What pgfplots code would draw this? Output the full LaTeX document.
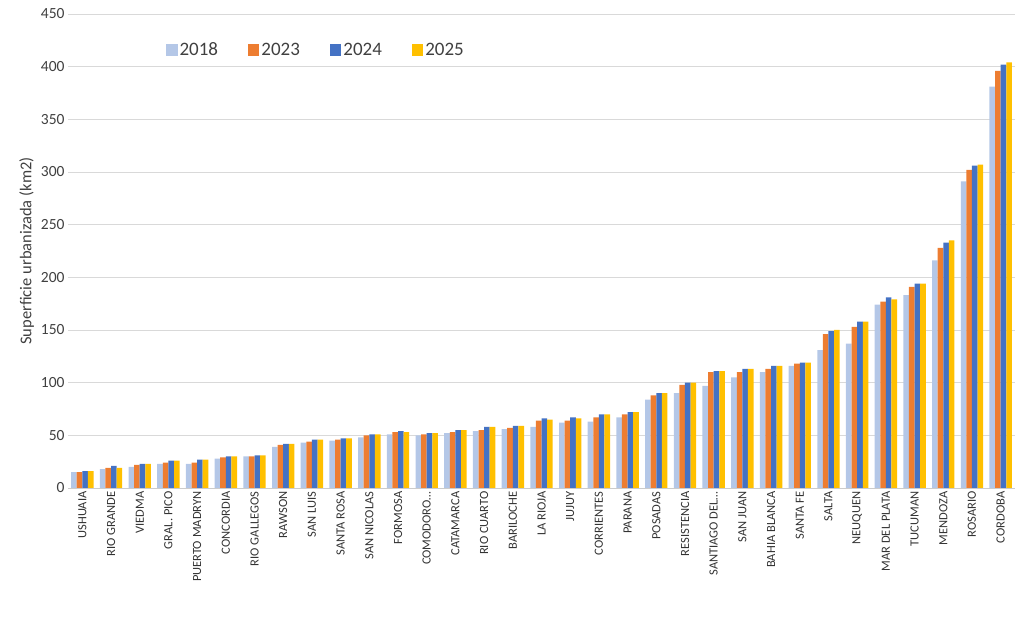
\documentclass[border=0pt]{standalone}
\usepackage{pgfplots}
\pgfplotsset{compat=1.18}
\usepackage{fontspec}
\setmainfont{Carlito}
\definecolor{c18}{HTML}{B4C7E7}
\definecolor{c23}{HTML}{ED7D31}
\definecolor{c24}{HTML}{4472C4}
\definecolor{c25}{HTML}{FFC000}
\begin{document}
\begin{tikzpicture}
\useasboundingbox (0,0) rectangle (1025pt,639pt);
\begin{axis}[at={(68pt,151pt)}, anchor=south west,
  scale only axis, width=947pt, height=474pt,
  ybar=0pt, bar width=5.6pt,
  xmin=-0.5, xmax=32.5, ymin=0, ymax=450, ytick={0,50,...,450},
  xtick={0,...,32},
  xticklabels={USHUAIA,RIO GRANDE,VIEDMA,GRAL. PICO,PUERTO MADRYN,CONCORDIA,RIO GALLEGOS,RAWSON,SAN LUIS,SANTA ROSA,SAN NICOLAS,FORMOSA,COMODORO\ldots,CATAMARCA,RIO CUARTO,BARILOCHE,LA RIOJA,JUJUY,CORRIENTES,PARANA,POSADAS,RESISTENCIA,SANTIAGO DEL\ldots,SAN JUAN,BAHIA BLANCA,SANTA FE,SALTA,NEUQUEN,MAR DEL PLATA,TUCUMAN,MENDOZA,ROSARIO,CORDOBA},
  x tick label style={rotate=90, anchor=east, font=\fontsize{12.5}{13}\selectfont, text=black!80},
  y tick label style={font=\fontsize{15.5}{16}\selectfont, text=black!75},
  /pgf/number format/assume math mode=true,
  ymajorgrids, grid style={gray!30, line width=0.8pt},
  axis x line*=bottom, axis y line*=left,
  y axis line style={draw=none},
  x axis line style={gray!40, line width=0.8pt, -},
  major tick length=0pt,
  ylabel={Superficie urbanizada (km2)}, ylabel style={font=\fontsize{16.5}{17}\selectfont, text=black!75},
  legend style={at={(95pt,438pt)}, anchor=west, draw=none, fill=none, legend columns=4, font=\fontsize{19}{20}\selectfont, text=black!75, /tikz/every even column/.append style={column sep=28pt}},
  legend image code/.code={\fill[#1] (0cm,-0.2cm) rectangle (0.4cm,0.2cm);},
]
\addplot[draw=none, fill=c18] coordinates {(0,15)(1,18)(2,20)(3,23)(4,23)(5,28)(6,30)(7,39)(8,43)(9,45)(10,48)(11,51)(12,50)(13,52)(14,54)(15,56)(16,58)(17,62)(18,63)(19,67)(20,84)(21,90)(22,97)(23,105)(24,110)(25,116)(26,131)(27,137)(28,174)(29,183)(30,216)(31,291)(32,381)};
\addplot[draw=none, fill=c23] coordinates {(0,15)(1,19)(2,22)(3,24)(4,24)(5,29)(6,30)(7,41)(8,44)(9,46)(10,50)(11,53)(12,51)(13,53)(14,55)(15,57)(16,64)(17,64)(18,67)(19,70)(20,88)(21,98)(22,110)(23,110)(24,113)(25,118)(26,146)(27,153)(28,177)(29,191)(30,228)(31,302)(32,396)};
\addplot[draw=none, fill=c24] coordinates {(0,16)(1,21)(2,23)(3,26)(4,27)(5,30)(6,31)(7,42)(8,46)(9,47)(10,51)(11,54)(12,52)(13,55)(14,58)(15,59)(16,66)(17,67)(18,70)(19,72)(20,90)(21,100)(22,111)(23,113)(24,116)(25,119)(26,149)(27,158)(28,181)(29,194)(30,233)(31,306)(32,402)};
\addplot[draw=none, fill=c25] coordinates {(0,16)(1,19)(2,23)(3,26)(4,27)(5,30)(6,31)(7,42)(8,46)(9,47)(10,51)(11,53)(12,52)(13,55)(14,58)(15,59)(16,65)(17,66)(18,70)(19,72)(20,90)(21,100)(22,111)(23,113)(24,116)(25,119)(26,150)(27,158)(28,179)(29,194)(30,235)(31,307)(32,404)};
\legend{2018,2023,2024,2025}
\end{axis}
\end{tikzpicture}
\end{document}
